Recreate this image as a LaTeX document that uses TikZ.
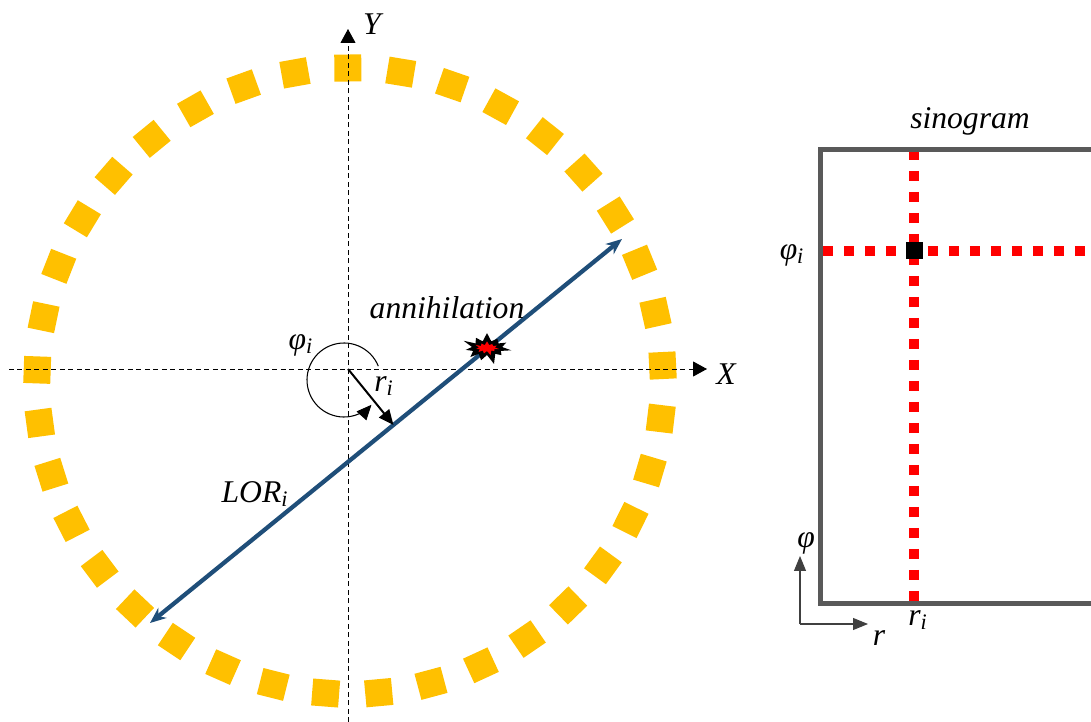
\documentclass[tikz,border=0pt]{standalone}
\usepackage{fontspec}
\setmainfont{Liberation Serif}
\usepackage{xcolor}
\usepackage{tikz}
\usetikzlibrary{arrows.meta, calc, shapes.symbols}
\definecolor{mygold}{RGB}{255,192,0}
\definecolor{myblue}{RGB}{31,78,121}
\definecolor{mygray}{RGB}{89,89,89}
\definecolor{mydark}{RGB}{64,64,64}
\definecolor{myred}{RGB}{255,0,0}
\tikzset{
  detector/.style={rectangle, fill=mygold, minimum width=0.54cm,
    minimum height=0.54cm, inner sep=0pt},
  lbl/.style={font=\fontsize{18}{22}\selectfont\itshape, inner sep=1pt},
  axis/.style={-{Triangle[length=0.28cm, width=0.3cm]}, line width=0.5pt,
    dash pattern=on 0.1cm off 0.07cm},
  lor/.style={{Stealth[length=0.32cm, width=0.26cm]}-{Stealth[length=0.32cm, width=0.26cm]},
    line width=0.085cm, color=myblue},
  arrow/.style={-{Triangle[length=0.3cm, width=0.26cm]}, line width=0.04cm},
  frame/.style={line width=0.1cm, color=mygray},
  redline/.style={line width=0.2cm, color=myred, dash pattern=on 0.2cm off 0.22cm},
  smallax/.style={-{Triangle[length=0.3cm, width=0.24cm]}, line width=0.6pt, color=mydark}
}

\begin{document}
\begin{tikzpicture}[x=0.02cm, y=-0.02cm,
  burst/.style={starburst, starburst points=11, starburst point height=0.22cm,
    inner sep=0pt, draw=none}]
  \useasboundingbox (0,0) rectangle (1091,722);

  % detector ring
  \coordinate (C) at (350,381);
  \foreach \k in {0,...,36}{
    \pgfmathsetmacro{\ang}{90.4-\k*360/37}
    \node[detector, rotate=\ang] (det\k) at ($(C)+(-\ang:313)$) {};
  }

  % axes
  \coordinate (O) at (348,369);
  \coordinate (xl) at (9,369);
  \coordinate (xr) at (707,369);
  \coordinate (yb) at (348,722);
  \coordinate (yt) at (348,29);
  \draw[axis] (xl) -- (xr);
  \draw[axis] (yb) -- (yt);
  \node[lbl] (X) at (726,374) {X};
  \node[lbl] (Y) at (372,24) {Y};

  % line of response
  \coordinate (lorA) at (150,623);
  \coordinate (lorB) at (622,239);
  \draw[lor] (lorA) -- (lorB);
  \node[lbl] (lorlbl) at (255,494) {LOR\textsubscript{i}};

  % distance and angle
  \coordinate (foot) at ($(lorA)!(O)!(lorB)$);
  \draw[arrow] (O) -- (foot);
  \node[lbl] (rlbl) at (384,386) {r\textsubscript{i}};
  \coordinate (Oc) at (344,380);
  \draw[arrow, line width=0.6pt] ($(Oc)+(-22:37)$) arc[start angle=-22, end angle=-318, radius=37];
  \node[lbl] (philbl) at (301,345) {φ\textsubscript{i}};

  % annihilation
  \node[burst, fill=black, minimum width=1.05cm, minimum height=0.72cm] (ann) at (487,348) {};
  \node[burst, fill=myred, minimum width=0.52cm, minimum height=0.32cm,
    starburst point height=0.1cm] (anncore) at (ann) {};
  \node[lbl] (annlbl) at (447,308) {annihilation};

  % sinogram
  \node[lbl] (sino) at (970,121) {sinogram};
  \coordinate (sTR) at (1091,150);
  \coordinate (sTL) at (820,150);
  \coordinate (sBL) at (820,603);
  \coordinate (sBR) at (1091,603);
  \draw[redline] (914,150) coordinate (vT) -- (914,603) coordinate (vB);
  \draw[redline] (823,251) coordinate (hL) -- (1091,251) coordinate (hR);
  \draw[frame] (sTR) -- (sTL) -- (sBL) -- (sBR);
  \node[rectangle, fill=black, minimum size=0.34cm, inner sep=0pt] (hit) at (914,251) {};
  \node[lbl] (phii) at (792,255) {φ\textsubscript{i}};
  \node[lbl] (ri) at (918,620) {r\textsubscript{i}};

  % small axes
  \coordinate (sO) at (800,624);
  \coordinate (sU) at (800,556);
  \coordinate (sR) at (868,624);
  \draw[smallax] (sO) -- (sU);
  \draw[smallax] (sO) -- (sR);
  \node[lbl] (phi) at (806,543) {φ};
  \node[lbl] (r) at (879,638) {r};
\end{tikzpicture}
\end{document}
